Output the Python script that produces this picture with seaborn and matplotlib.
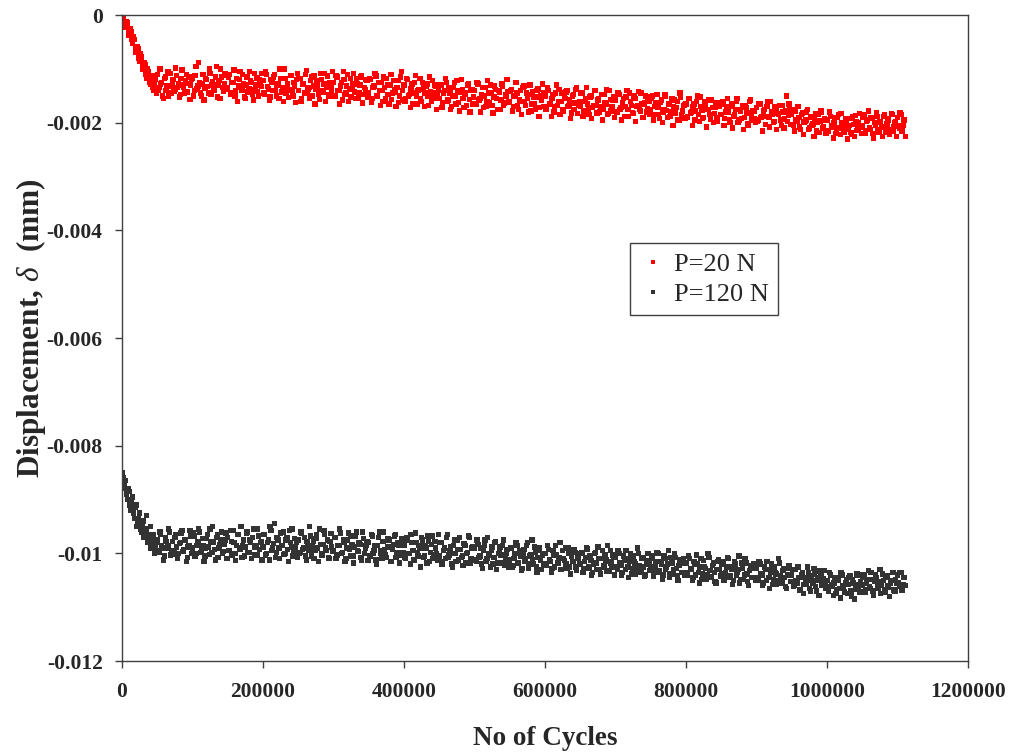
import numpy as np
import pandas as pd
import matplotlib
matplotlib.use("Agg")
import matplotlib.pyplot as plt
import seaborn as sns

# ---------------- data (displacement in units of 1e-5 mm) ----------------
CYCLE_STEP = 2500  # sampling interval of the readings (cycles); second set is taken half a step later

p20_disp = [
    0, -8, -22, -15, -38, -30, -52, -45, -70, -62, -85, -78, -100, -92, -118, -105, -128, -112, -140, -120,
    -110, -135, -128, -150, -118, -140, -105, -132, -145, -120, -138, -112, -127, -148, -102, -135, -122, -143, -115, -130,
    -118, -140, -95, -132, -125, -150, -110, -136, -120, -145, -108, -130, -138, -115, -152, -122, -100, -135, -128, -112,
    -135, -110, -145, -125, -150, -118, -132, -105, -140, -128, -155, -115, -137, -122, -147, -108, -130, -142, -120, -133,
    -122, -148, -110, -137, -152, -125, -115, -140, -130, -155, -118, -135, -100, -145, -127, -138, -112, -150, -132, -120,
    -140, -118, -155, -128, -110, -145, -135, -122, -150, -113, -138, -130, -157, -120, -143, -108, -135, -148, -125, -140,
    -125, -150, -115, -140, -132, -158, -120, -145, -110, -137, -152, -128, -143, -118, -155, -130, -112, -147, -138, -122,
    -145, -120, -155, -132, -113, -150, -140, -125, -160, -135, -118, -148, -130, -157, -122, -143, -135, -162, -115, -140,
    -130, -155, -120, -148, -137, -165, -125, -150, -140, -118, -160, -135, -145, -128, -168, -142, -122, -155, -133, -150,
    -155, -130, -163, -140, -125, -158, -145, -170, -135, -150, -122, -162, -143, -138, -172, -148, -130, -157, -140, -165,
    -140, -165, -128, -155, -148, -172, -135, -160, -145, -130, -168, -152, -138, -175, -143, -158, -133, -163, -150, -142,
    -162, -138, -170, -150, -145, -175, -140, -160, -132, -168, -155, -148, -178, -143, -165, -152, -137, -172, -158, -145,
    -150, -172, -140, -165, -155, -180, -145, -168, -138, -160, -175, -152, -143, -170, -158, -182, -147, -163, -135, -167,
    -170, -145, -178, -155, -165, -185, -150, -172, -140, -168, -158, -180, -148, -175, -162, -138, -183, -157, -170, -152,
    -158, -180, -147, -172, -162, -188, -152, -175, -145, -168, -183, -155, -170, -142, -178, -165, -190, -150, -173, -160,
    -175, -150, -185, -163, -172, -192, -158, -180, -148, -177, -165, -188, -155, -170, -182, -160, -195, -152, -178, -167,
    -165, -188, -155, -180, -170, -195, -160, -185, -152, -177, -190, -167, -175, -158, -193, -172, -183, -163, -198, -170,
    -185, -160, -192, -170, -180, -200, -165, -188, -175, -155, -195, -178, -168, -190, -172, -202, -160, -185, -177, -193,
    -172, -195, -165, -188, -178, -203, -170, -190, -160, -185, -198, -175, -183, -168, -205, -180, -193, -150, -187, -176,
    -185, -205, -178, -198, -190, -212, -182, -200, -195, -175, -210, -188, -202, -192, -215, -185, -197, -180, -208, -195,
    -195, -215, -188, -208, -200, -220, -190, -210, -183, -205, -218, -197, -212, -192, -222, -203, -187, -214, -199, -208,
    -205, -185, -215, -195, -210, -190, -220, -200, -182, -212, -198, -208, -188, -218, -202, -193, -213, -185, -207, -198,
    -190, -210, -185, -205, -195,
]

p20_disp_mid = [
    -3, -15, -12, -28, -25, -45, -40, -60, -58, -80, -72, -95, -88, -110, -100, -125, -118, -135, -128, -145,
    -140, -100, -125, -155, -115, -132, -150, -108, -128, -142, -98, -135, -152, -118, -130, -145, -110, -127, -157, -120,
    -150, -112, -137, -88, -145, -128, -158, -118, -133, -100, -148, -123, -140, -95, -130, -155, -115, -142, -108, -137,
    -115, -148, -125, -102, -140, -160, -120, -135, -110, -152, -130, -143, -105, -125, -158, -138, -117, -150, -128, -108,
    -145, -105, -133, -158, -120, -140, -110, -150, -127, -100, -143, -160, -118, -135, -153, -112, -140, -125, -162, -108,
    -118, -160, -128, -145, -103, -138, -155, -115, -132, -165, -122, -148, -108, -140, -128, -160, -113, -150, -135, -105,
    -150, -112, -140, -165, -125, -105, -148, -132, -160, -118, -138, -108, -155, -128, -145, -115, -163, -135, -120, -152,
    -118, -162, -135, -108, -150, -125, -168, -140, -115, -155, -130, -165, -110, -145, -138, -170, -122, -150, -105, -158,
    -160, -118, -150, -172, -128, -145, -112, -165, -138, -155, -125, -170, -133, -150, -115, -160, -145, -130, -175, -140,
    -130, -172, -145, -118, -160, -135, -175, -150, -125, -165, -140, -178, -120, -155, -145, -168, -128, -180, -138, -152,
    -165, -125, -158, -180, -135, -150, -170, -122, -162, -145, -182, -132, -155, -140, -175, -128, -168, -148, -120, -160,
    -140, -178, -150, -125, -168, -158, -185, -135, -160, -145, -180, -130, -165, -152, -175, -140, -188, -150, -128, -170,
    -175, -135, -165, -188, -148, -170, -130, -160, -185, -145, -178, -155, -140, -168, -192, -150, -175, -138, -183, -160,
    -145, -188, -160, -135, -175, -152, -192, -168, -140, -182, -155, -170, -195, -148, -165, -185, -140, -178, -158, -190,
    -180, -145, -175, -195, -155, -170, -140, -188, -160, -182, -150, -198, -168, -175, -145, -190, -163, -180, -152, -185,
    -155, -195, -170, -148, -185, -162, -200, -175, -150, -190, -165, -180, -205, -158, -172, -195, -145, -185, -168, -192,
    -190, -155, -182, -205, -165, -178, -150, -198, -170, -192, -160, -208, -175, -185, -158, -200, -172, -190, -162, -185,
    -165, -205, -180, -155, -195, -170, -210, -185, -160, -200, -175, -192, -213, -168, -182, -205, -158, -195, -178, -200,
    -198, -165, -190, -215, -175, -188, -160, -208, -180, -200, -170, -212, -185, -195, -168, -210, -178, -198, -165, -203,
    -175, -215, -195, -170, -208, -185, -222, -198, -180, -212, -190, -205, -225, -183, -200, -218, -178, -210, -193, -220,
    -215, -180, -205, -228, -190, -210, -185, -222, -200, -213, -192, -230, -205, -218, -188, -225, -198, -210, -183, -220,
    -190, -220, -198, -178, -213, -192, -228, -205, -188, -218, -200, -225, -185, -210, -195, -222, -183, -215, -200, -225,
    -205, -182, -215, -195, -225,
]

p120_disp = [
    -850, -880, -865, -900, -885, -920, -895, -935, -910, -945, -925, -960, -940, -955, -930, -970, -950, -985, -965, -990,
    -975, -998, -965, -990, -1005, -978, -985, -960, -995, -1002, -970, -988, -1000, -980, -958, -993, -975, -1008, -985, -968,
    -990, -968, -1000, -978, -960, -995, -985, -1005, -972, -988, -955, -998, -980, -1012, -965, -990, -975, -1000, -983, -962,
    -970, -995, -978, -958, -1000, -985, -965, -992, -1008, -975, -988, -960, -998, -980, -970, -1003, -985, -955, -993, -978,
    -988, -965, -1000, -975, -950, -995, -982, -1008, -970, -990, -962, -985, -1002, -975, -993, -958, -988, -1005, -972, -980,
    -975, -998, -962, -990, -1005, -978, -995, -968, -985, -1010, -972, -990, -955, -1000, -983, -965, -995, -1008, -978, -988,
    -995, -970, -1003, -985, -962, -998, -980, -1010, -975, -992, -968, -1005, -988, -960, -997, -983, -1012, -972, -990, -978,
    -980, -1005, -968, -995, -1012, -985, -960, -1000, -978, -993, -1008, -972, -988, -1015, -983, -965, -998, -985, -1003, -975,
    -985, -1010, -975, -1000, -965, -995, -1013, -980, -1005, -990, -970, -1008, -985, -1018, -978, -998, -968, -1003, -990, -1012,
    -1005, -980, -1015, -990, -970, -1008, -995, -1020, -985, -1000, -975, -1012, -993, -1005, -982, -1018, -998, -970, -1010, -988,
    -990, -1015, -983, -1005, -1020, -995, -975, -1010, -1000, -1025, -988, -1008, -978, -1018, -995, -1003, -985, -1022, -1000, -1012,
    -1015, -990, -1022, -1000, -985, -1018, -1005, -1028, -993, -1010, -980, -1020, -1002, -1012, -988, -1025, -1008, -995, -1030, -1000,
    -1000, -1022, -993, -1015, -1028, -1003, -985, -1018, -1008, -1030, -995, -1013, -1020, -990, -1025, -1005, -1015, -998, -1032, -1010,
    -1020, -998, -1028, -1008, -992, -1025, -1013, -1035, -1000, -1018, -988, -1030, -1010, -1022, -1003, -1033, -1015, -995, -1025, -1008,
    -1008, -1030, -1000, -1022, -1035, -1012, -995, -1025, -1015, -1038, -1005, -1020, -1030, -1000, -1033, -1010, -1025, -1040, -1013, -1018,
    -1028, -1005, -1035, -1015, -1000, -1032, -1020, -1040, -1010, -1025, -995, -1038, -1018, -1030, -1008, -1042, -1022, -1012, -1035, -1017,
    -1018, -1040, -1010, -1030, -1045, -1020, -1003, -1035, -1025, -1048, -1013, -1028, -1040, -1008, -1043, -1022, -1035, -1055, -1015, -1030,
    -1038, -1015, -1045, -1025, -1010, -1042, -1030, -1050, -1020, -1035, -1005, -1048, -1028, -1040, -1018, -1052, -1032, -1022, -1045, -1028,
    -1028, -1050, -1020, -1040, -1055, -1030, -1015, -1045, -1035, -1058, -1025, -1038, -1050, -1018, -1053, -1032, -1045, -1065, -1027, -1040,
    -1040, -1062, -1030, -1055, -1045, -1068, -1035, -1058, -1048, -1025, -1065, -1042, -1055, -1038, -1070, -1050, -1033, -1060, -1047, -1057,
    -1050, -1070, -1040, -1062, -1055, -1075, -1045, -1065, -1035, -1060, -1072, -1048, -1058, -1042, -1080, -1055, -1067, -1038, -1063, -1052,
    -1058, -1040, -1068, -1048, -1062, -1035, -1070, -1052, -1045, -1065, -1030, -1060, -1050, -1072, -1042, -1063, -1055, -1035, -1068, -1048,
    -1040, -1062, -1035, -1058, -1045,
]

p120_disp_mid = [
    -860, -875, -890, -880, -910, -900, -925, -915, -950, -935, -955, -945, -970, -960, -980, -965, -990, -975, -1000, -980,
    -995, -960, -985, -1012, -970, -990, -955, -1003, -978, -998, -965, -1010, -982, -962, -997, -975, -1015, -988, -958, -1000,
    -962, -1005, -985, -955, -998, -972, -1015, -990, -965, -1002, -978, -950, -993, -970, -1008, -983, -960, -997, -975, -1010,
    -995, -958, -1003, -980, -1013, -965, -990, -950, -985, -1005, -962, -998, -975, -1010, -955, -988, -1003, -968, -980, -1012,
    -965, -1003, -980, -1012, -958, -990, -945, -998, -975, -1010, -985, -960, -1000, -970, -1015, -980, -955, -995, -988, -1008,
    -1000, -960, -993, -970, -1012, -985, -950, -1005, -978, -995, -965, -1015, -983, -1003, -958, -990, -975, -1010, -963, -997,
    -970, -1010, -985, -955, -1000, -975, -1015, -990, -962, -1005, -983, -1018, -968, -995, -980, -1008, -960, -1000, -985, -1013,
    -1005, -965, -1000, -985, -1020, -970, -995, -1010, -960, -1003, -988, -975, -1015, -993, -968, -1008, -980, -1018, -972, -998,
    -1008, -970, -1000, -1020, -980, -1012, -962, -998, -985, -1025, -975, -1005, -990, -968, -1015, -983, -1010, -978, -1000, -965,
    -980, -1020, -995, -1010, -965, -1003, -988, -1025, -975, -1015, -993, -970, -1008, -1022, -985, -1000, -968, -1018, -990, -1012,
    -1012, -975, -1008, -990, -1028, -985, -1015, -970, -1003, -995, -1020, -980, -1030, -1000, -988, -1018, -975, -1010, -993, -1025,
    -990, -1025, -1010, -980, -1018, -995, -1032, -1000, -1015, -985, -1028, -1005, -975, -1020, -998, -1035, -990, -1012, -1003, -1022,
    -1020, -985, -1012, -1035, -995, -1025, -1003, -1018, -980, -1030, -1010, -990, -1028, -1000, -1038, -1015, -993, -1025, -1005, -1020,
    -1000, -1035, -1015, -990, -1028, -1005, -1040, -1020, -998, -1030, -1010, -1038, -995, -1025, -1012, -985, -1033, -1018, -1003, -1040,
    -1025, -995, -1018, -1040, -1005, -1030, -1010, -1045, -1000, -1028, -1015, -1038, -990, -1022, -1035, -1008, -1042, -1020, -1000, -1032,
    -1010, -1042, -1025, -998, -1035, -1015, -1048, -1005, -1030, -1020, -1045, -1008, -1038, -1000, -1028, -1050, -1018, -1035, -1010, -1040,
    -1035, -1005, -1028, -1050, -1015, -1040, -1020, -1055, -1010, -1038, -1025, -1048, -1000, -1032, -1045, -1018, -1052, -1030, -1012, -1042,
    -1020, -1050, -1035, -1008, -1045, -1025, -1058, -1015, -1040, -1030, -1055, -1018, -1048, -1010, -1038, -1060, -1028, -1045, -1020, -1050,
    -1045, -1015, -1038, -1060, -1025, -1050, -1030, -1065, -1020, -1048, -1035, -1058, -1010, -1042, -1055, -1028, -1062, -1040, -1022, -1052,
    -1030, -1060, -1050, -1025, -1068, -1040, -1075, -1045, -1058, -1035, -1070, -1050, -1028, -1062, -1045, -1078, -1040, -1055, -1032, -1065,
    -1062, -1035, -1058, -1078, -1045, -1068, -1050, -1083, -1040, -1065, -1055, -1075, -1045, -1070, -1048, -1085, -1058, -1040, -1072, -1060,
    -1045, -1072, -1055, -1032, -1065, -1048, -1078, -1040, -1062, -1052, -1075, -1038, -1068, -1045, -1060, -1080, -1050, -1035, -1070, -1055,
    -1055, -1035, -1068, -1045, -1060,
]

series_labels = ["P=20 N", "P=120 N"]
series_colors = ["#ff0000", "#333333"]
x_ticks = [0, 200000, 400000, 600000, 800000, 1000000, 1200000]
y_ticks = [0, -0.002, -0.004, -0.006, -0.008, -0.01, -0.012]
y_tick_labels = ["0", "-0.002", "-0.004", "-0.006", "-0.008", "-0.01", "-0.012"]

# ---------------- build long-form table ----------------
frames = []
for lab, sets in zip(series_labels, [(p20_disp, p20_disp_mid), (p120_disp, p120_disp_mid)]):
    for offset, vals in zip([0, CYCLE_STEP // 2], sets):
        n = len(vals)
        frames.append(pd.DataFrame({
            "Cycles": np.arange(n) * CYCLE_STEP + offset,
            "Displacement": np.array(vals, dtype=float) * 1e-5,
            "Load": lab,
        }))
df = pd.concat(frames, ignore_index=True)

# ---------------- style ----------------
sns.set_theme(style="white")
plt.rcParams["font.family"] = ["Liberation Serif", "DejaVu Serif"]
plt.rcParams["mathtext.fontset"] = "custom"
plt.rcParams["mathtext.it"] = "Liberation Serif:italic"
plt.rcParams["mathtext.rm"] = "Liberation Serif"
plt.rcParams["axes.unicode_minus"] = False

fig = plt.figure(figsize=(10.11, 7.54), dpi=100)
ax = fig.add_axes([0.1207, 0.1233, 0.8368, 0.8567])

sns.scatterplot(data=df, x="Cycles", y="Displacement", hue="Load",
                palette=dict(zip(series_labels, series_colors)),
                hue_order=series_labels, marker="s", s=15, linewidth=0,
                ax=ax, legend=True)

ax.set_xlim(0, 1200000)
ax.set_ylim(-0.012, 0)
ax.set_xticks(x_ticks)
ax.set_xticklabels([str(v) for v in x_ticks], fontsize=15.5, fontweight="bold")
ax.set_yticks(y_ticks)
ax.set_yticklabels(y_tick_labels, fontsize=15.5, fontweight="bold")

ax.tick_params(axis="both", which="major", direction="out", length=5,
               width=1, color="#404040", bottom=True, left=True)
ax.tick_params(axis="x", pad=10)
ax.tick_params(axis="y", pad=9)

for side in ["top", "right", "bottom", "left"]:
    ax.spines[side].set_visible(True)
    ax.spines[side].set_color("#404040")
    ax.spines[side].set_linewidth(1.0)

ax.set_xlabel("No of Cycles", fontsize=19.5, fontweight="bold")
ax.xaxis.set_label_coords(0.5, -0.10)
ax.set_ylabel(r"Displacement, $\delta$  (mm)", fontsize=22.5, fontweight="bold")
ax.yaxis.set_label_coords(-0.088, 0.515)

handles, labels = ax.get_legend_handles_labels()
leg = ax.legend(handles, labels, loc="upper left", bbox_to_anchor=(0.585, 0.667),
                frameon=True, fancybox=False, framealpha=1, edgecolor="#404040",
                prop={"family": "Liberation Serif", "size": 19},
                handletextpad=0.3, borderpad=0.35, labelspacing=0.25,
                handlelength=1.0, markerscale=0.8)
leg.get_frame().set_linewidth(1.0)

fig.savefig("out.png", dpi=100, facecolor="white")
